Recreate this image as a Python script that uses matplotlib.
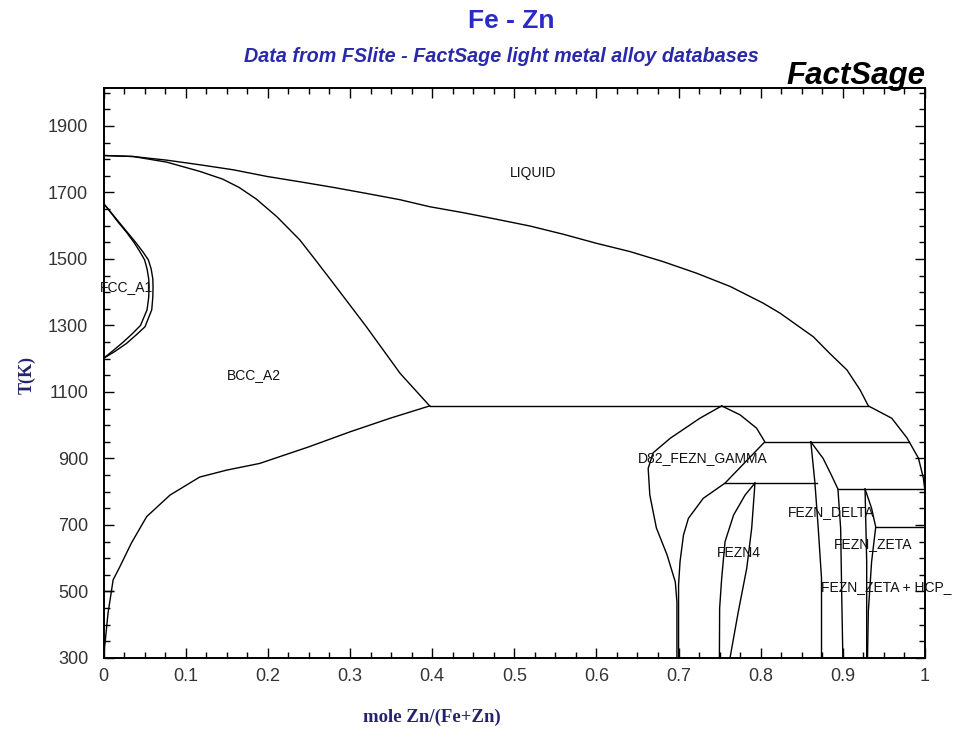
import numpy as np
import matplotlib
matplotlib.use("Agg")
import matplotlib.pyplot as plt
from matplotlib.ticker import MultipleLocator

# phase boundaries (x = mole Zn/(Fe+Zn), T in K)
liq_x = [0.0, 0.036, 0.077, 0.1175, 0.158, 0.199, 0.239, 0.280, 0.320, 0.361, 0.397, 0.438, 0.479,
         0.519, 0.560, 0.600, 0.641, 0.681, 0.722, 0.763, 0.803, 0.8235, 0.844, 0.864, 0.884, 0.905,
         0.921, 0.931, 0.9595, 0.978, 0.992, 0.998, 1.0, 1.0]
liq_t = [1811, 1808, 1797, 1783, 1768, 1748, 1732, 1715, 1697, 1678, 1657, 1639, 1619,
         1599, 1574, 1547, 1522, 1492, 1457, 1417, 1367, 1337, 1301, 1266, 1216, 1166,
         1106, 1058, 1021, 962, 901, 841, 800, 693]

bcc_sol_x = [0.0, 0.036, 0.077, 0.1175, 0.145, 0.165, 0.186, 0.211, 0.239, 0.2595, 0.2797, 0.320,
             0.361, 0.397]
bcc_sol_t = [1811, 1808, 1791, 1763, 1740, 1715, 1680, 1627, 1557, 1492, 1427, 1296,
             1156, 1058]

bcc_solvus_x = [0.0, 0.001, 0.0055, 0.0117, 0.020, 0.034, 0.0525, 0.081, 0.117, 0.150, 0.19,
                0.25, 0.30, 0.349, 0.397]
bcc_solvus_t = [300, 324, 435, 535, 575, 646, 725, 790, 844, 865, 885, 935, 980, 1021, 1058]

fcc_out_x = [0.0, 0.010, 0.020, 0.030, 0.040, 0.048, 0.0546, 0.058, 0.060, 0.0603, 0.060, 0.0587,
             0.0505, 0.040, 0.028, 0.014, 0.0]
fcc_out_t = [1667, 1637, 1607, 1577, 1547, 1521, 1497, 1470, 1440, 1417, 1385, 1347,
             1296, 1272, 1246, 1222, 1201]
fcc_in_x = [0.0, 0.009, 0.018, 0.028, 0.037, 0.044, 0.050, 0.053, 0.055, 0.0555, 0.055, 0.053,
            0.045, 0.035, 0.024, 0.012, 0.0]
fcc_in_t = [1667, 1639, 1610, 1580, 1550, 1523, 1497, 1470, 1440, 1417, 1385, 1347,
            1300, 1275, 1250, 1225, 1201]

gam_l_x = [0.7525, 0.726, 0.690, 0.669, 0.663, 0.665, 0.673, 0.686, 0.696, 0.698, 0.698]
gam_l_t = [1058, 1021, 961, 917, 870, 790, 691, 610, 529, 469, 300]
gam_r_x = [0.7525, 0.775, 0.795, 0.805, 0.7566, 0.730, 0.712, 0.706, 0.7018, 0.700, 0.700]
gam_r_t = [1058, 1031, 991, 950, 826, 780, 720, 670, 590, 520, 300]

fezn4_l_x = [0.793, 0.781, 0.767, 0.7566, 0.7525, 0.750, 0.7497]
fezn4_l_t = [826, 790, 730, 650, 540, 450, 300]
fezn4_r_x = [0.793, 0.789, 0.783, 0.7727, 0.7626]
fezn4_r_t = [826, 690, 570, 439, 300]

delta_l_x = [0.861, 0.866, 0.870, 0.874, 0.874]
delta_l_t = [950, 826, 691, 540, 300]
delta_r_x = [0.861, 0.876, 0.886, 0.894, 0.8973, 0.8986, 0.900]
delta_r_t = [950, 900, 850, 808, 690, 490, 300]

zeta_l_x = [0.927, 0.929, 0.929]
zeta_l_t = [808, 590, 300]
zeta_r_x = [0.927, 0.935, 0.940, 0.935, 0.931, 0.930]
zeta_r_t = [808, 750, 694, 590, 440, 300]

# invariant lines
iso_t = [1058, 950, 826, 808, 694, 502]
iso_x0 = [0.397, 0.805, 0.7566, 0.894, 0.940, 0.0]
iso_x1 = [0.931, 0.981, 0.868, 0.999, 1.0, 0.012]

labels = ["LIQUID", "BCC_A2", "FCC_A1", "D82_FEZN_GAMMA", "FEZN4", "FEZN_DELTA", "FEZN_ZETA"]
label_x = [0.5225, 0.1826, 0.0275, 0.7298, 0.773, 0.886, 0.9365]
label_t = [1758, 1151, 1417, 901, 615, 740, 643]

navy = "#24246e"
blue = "#2a2ac8"

fig = plt.figure(figsize=(9.55, 7.29), dpi=100)
ax = fig.add_axes([0.1084, 0.0974, 0.8602, 0.7819])

curves = [(liq_x, liq_t), (bcc_sol_x, bcc_sol_t), (bcc_solvus_x, bcc_solvus_t),
          (fcc_out_x, fcc_out_t), (fcc_in_x, fcc_in_t), (gam_l_x, gam_l_t), (gam_r_x, gam_r_t),
          (fezn4_l_x, fezn4_l_t), (fezn4_r_x, fezn4_r_t), (delta_l_x, delta_l_t),
          (delta_r_x, delta_r_t), (zeta_l_x, zeta_l_t), (zeta_r_x, zeta_r_t)]
for cx, ct in curves:
    ax.plot(cx, ct, color="black", lw=1.0)
for t, x0, x1 in zip(iso_t, iso_x0, iso_x1):
    ax.plot([x0, x1], [t, t], color="black", lw=1.0)

for s, x, t in zip(labels, label_x, label_t):
    ax.text(x, t, s, ha="center", va="center", fontsize=10, family="Liberation Sans", color="#111111")
# in the original this label runs into the right edge of the picture
ax.text(0.873, 513, "FEZN_ZETA + HCP_", ha="left", va="center", fontsize=10,
        family="Liberation Sans", color="#111111", clip_on=False)

ax.set_xlim(0, 1)
ax.set_ylim(300, 2014)
ax.set_xticks(np.arange(0, 1.01, 0.1))
ax.set_xticklabels(["0", "0.1", "0.2", "0.3", "0.4", "0.5", "0.6", "0.7", "0.8", "0.9", "1"])
ax.set_yticks(np.arange(300, 2000, 200))
ax.xaxis.set_minor_locator(MultipleLocator(0.025))
ax.yaxis.set_minor_locator(MultipleLocator(50))
ax.tick_params(which="both", direction="in", top=True, right=True, width=1.0, colors="black",
               labelcolor="#333333", labelsize=13)
ax.tick_params(which="major", length=7)
ax.tick_params(which="minor", length=4)
ax.tick_params(axis="x", pad=7)
ax.tick_params(axis="y", pad=11)
for lab in ax.get_xticklabels() + ax.get_yticklabels():
    lab.set_family("Liberation Sans")
for sp in ax.spines.values():
    sp.set_linewidth(1.4)

fig.text(432 / 955, 1 - 717 / 729, "mole Zn/(Fe+Zn)", ha="center", va="center",
         family="Liberation Serif", weight="bold", fontsize=13.5, color=navy)
fig.text(27 / 955, 1 - 375 / 729, "T(K)", ha="center", va="center", rotation=90,
         family="Liberation Serif", weight="bold", fontsize=13, color=navy)

fig.text(511 / 955, 1 - 21 / 729, "Fe - Zn", ha="center", va="center",
         family="Liberation Sans", weight="bold", fontsize=19, color=blue)
fig.text(501 / 955, 1 - 57 / 729, "Data from FSlite - FactSage light metal alloy databases",
         ha="center", va="center", family="Liberation Sans", weight="bold", style="italic",
         fontsize=14.2, color="#2a2aa8")
fig.text(925 / 955, 1 - 76 / 729, "FactSage", ha="right", va="center",
         family="Liberation Sans", weight="bold", style="italic", fontsize=22.5, color="black")

fig.savefig("out.png", dpi=100, facecolor="white")
